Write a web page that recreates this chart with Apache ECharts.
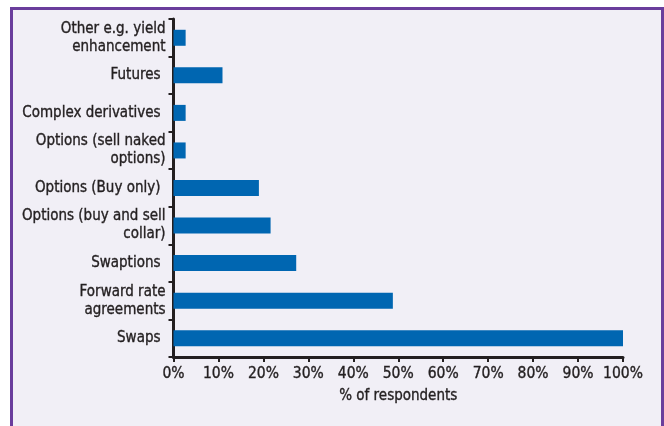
<!DOCTYPE html>
<html>
<head>
<meta charset="utf-8">
<script src="https://cdn.jsdelivr.net/npm/echarts@6/dist/echarts.min.js"></script>
<style>
  html, body { margin: 0; padding: 0; background: #ffffff; width: 664px; height: 426px; overflow: hidden; }
  #frame { position: absolute; left: 10px; top: 7px; width: 648px; height: 440px;
           border: 3px solid #6a3d9c; background: #f1eff6; }
  #chart { position: absolute; left: 0; top: 0; width: 664px; height: 426px; }
</style>
</head>
<body>
<div id="frame"></div>
<div id="chart"></div>
<script>
// Instruments used, listed bottom to top
const categories = [
  'Swaps',
  'Forward rate\nagreements',
  'Swaptions',
  'Options (buy and sell\ncollar)',
  'Options (Buy only)',
  'Options (sell naked\noptions)',
  'Complex derivatives',
  'Futures',
  'Other e.g. yield\nenhancement'
];
const respondentShare = [100, 48.8, 27.3, 21.6, 19.0, 2.7, 2.7, 10.9, 2.7];
const xTicks = [0, 10, 20, 30, 40, 50, 60, 70, 80, 90, 100];

const FONT = '"Liberation Sans Narrow", "DejaVu Sans Condensed", "Roboto", sans-serif';
const INK = '#231f20';
// a hairline outline in the ink colour gives the narrow face a medium weight
const textWeight = { textBorderColor: INK, textBorderWidth: 0.35 };

const chart = echarts.init(document.getElementById('chart'), null, { renderer: 'canvas' });
chart.setOption({
  backgroundColor: 'transparent',
  animation: false,
  grid: { left: 173.5, right: 41, top: 19, bottom: 69 },
  xAxis: {
    type: 'value',
    min: xTicks[0],
    max: xTicks[xTicks.length - 1],
    interval: xTicks[1] - xTicks[0],
    name: '% of respondents',
    nameLocation: 'middle',
    nameGap: 32,
    nameTextStyle: Object.assign({ fontFamily: FONT, fontSize: 15, color: INK }, textWeight),
    axisLine: { show: true, lineStyle: { color: INK, width: 3 } },
    axisTick: { show: true, length: 5, lineStyle: { color: INK, width: 2 } },
    axisLabel: Object.assign({ formatter: '{value}%', fontFamily: FONT, fontSize: 15.5, color: INK, margin: 9 }, textWeight),
    splitLine: { show: false }
  },
  yAxis: {
    type: 'category',
    data: categories,
    axisLine: { show: true, lineStyle: { color: INK, width: 3 } },
    axisTick: { show: true, length: 5, lineStyle: { color: INK, width: 2 } },
    axisLabel: Object.assign({
      fontFamily: FONT, fontSize: 15, color: INK, margin: 8, lineHeight: 18, align: 'right',
      formatter: v => v.indexOf('\n') >= 0 ? v : '{s|' + v + '}',
      rich: { s: Object.assign({ fontFamily: FONT, fontSize: 15, color: INK, padding: [0, 5, 0, 0] }, textWeight) }
    }, textWeight)
  },
  series: [{
    type: 'bar',
    data: respondentShare,
    barWidth: 16,
    itemStyle: { color: '#0066b1' }
  }]
});
</script>
</body>
</html>
